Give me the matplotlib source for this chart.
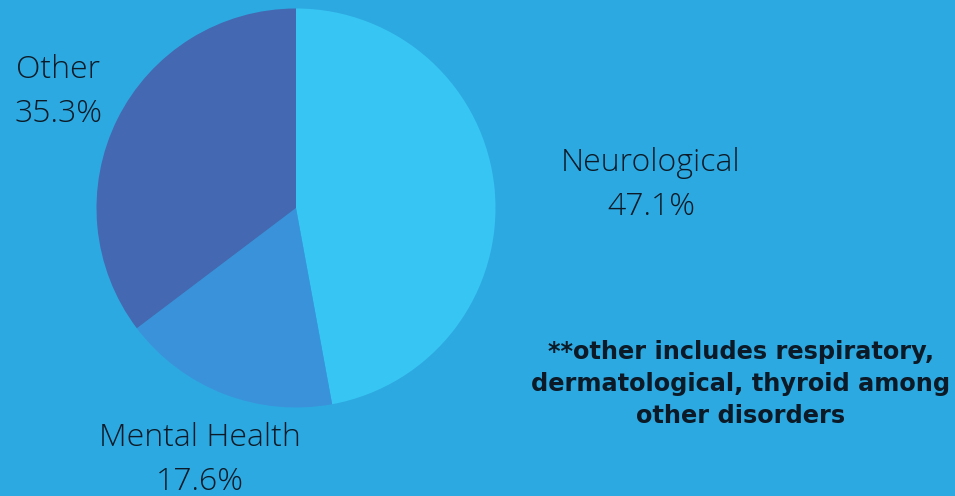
import matplotlib.pyplot as plt

categories = ['Neurological', 'Mental Health', 'Other']
shares = [47.1, 17.6, 35.3]
colors = ['#37C6F4', '#3A93DA', '#4468B1']
note = '**other includes respiratory,\ndermatological, thyroid among\nother disorders'

bg = '#2DA9E1'
ink = '#0B1A26'

fig = plt.figure(figsize=(9.55, 4.96), dpi=100, facecolor=bg)
ax = fig.add_axes([0, 0, 1, 1])
ax.set_facecolor(bg)

ax.pie(shares, colors=colors, startangle=90, counterclock=False,
       center=(296, 288), radius=199.5, frame=True,
       wedgeprops={'linewidth': 0})
ax.set_xlim(0, 955)
ax.set_ylim(0, 496)
ax.set_aspect('equal')
ax.axis('off')

# label positions (pixels, y from bottom)
label_pos = {'Neurological': (651, 333), 'Mental Health': (200, 58), 'Other': (58, 426)}
for name, val in zip(categories, shares):
    x, y = label_pos[name]
    ax.text(x, y, name, ha='center', va='center', fontsize=23,
            family='Open Sans', fontweight='light', color=ink)
    ax.text(x, y - 44, f'{val}%', ha='center', va='center', fontsize=23,
            family='Open Sans', fontweight='light', color=ink)

ax.text(741, 112, note, ha='center', va='center', fontsize=17.3,
        family='DejaVu Sans', fontweight='bold', color=ink, linespacing=1.4)

fig.savefig('out.png', dpi=100, facecolor=bg)
